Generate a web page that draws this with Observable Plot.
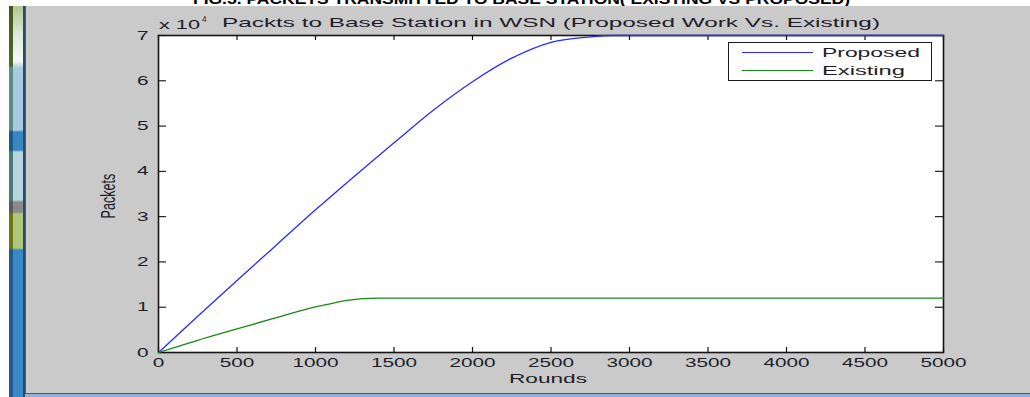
<!DOCTYPE html>
<html><head><meta charset="utf-8">
<script src="https://cdn.jsdelivr.net/npm/d3@7"></script>
<script src="https://cdn.jsdelivr.net/npm/@observablehq/plot@0.6"></script>
<style>
body{margin:0;background:#fff;}
#wrap{position:relative;width:1030px;height:397px;overflow:hidden;background:#fff;font-family:"Liberation Sans",Arial,sans-serif;color:#1e1e2a;}
#panel{position:absolute;left:25px;top:6px;width:1005px;height:387px;background:#cacaca;border-left:1px solid #5a5a60;box-sizing:border-box;}
#botline{position:absolute;left:25px;top:393px;width:1005px;height:1px;background:#4a5a70;}
#botblue{position:absolute;left:25px;top:394px;width:1005px;height:3px;background:#8fb2d6;}
#stripA{position:absolute;left:9px;top:6px;width:4px;height:391px;
 background:linear-gradient(to bottom,#44551a 0,#4a6a2a 60px,#5f8a8a 62px,#5f8a8a 124px,#1a5a8a 126px,#1a5a8a 144px,#4a7a7a 146px,#4a7a7a 194px,#5a5a5a 196px,#5a5a5a 206px,#6a7a10 208px,#6a7a10 242px,#1e5a90 244px,#1e5a90 100%);}
#stripB{position:absolute;left:13px;top:6px;width:10px;height:391px;
 background:linear-gradient(to bottom,#b0c890 0,#dfeadf 30px,#f4f8f4 55px,#a9cbe0 62px,#a9cbe0 124px,#3a86c0 126px,#3a86c0 144px,#b6d6e0 146px,#b6d6e0 194px,#8a8a8a 196px,#8a8a8a 206px,#b2c77e 208px,#b2c77e 242px,#3a88c6 244px,#3a88c6 100%);}
#stripC{position:absolute;left:23px;top:6px;width:2px;height:391px;background:#2a4a6a;}
#wrap svg{position:absolute;left:0;top:0;}
.t{position:absolute;white-space:nowrap;font-size:13px;line-height:13px;transform-origin:0 0;}
#caption{position:absolute;left:193px;top:-8px;font-weight:bold;font-size:14px;line-height:14px;color:#000;white-space:nowrap;transform-origin:0 0;}
#legend{position:absolute;left:728px;top:42px;width:204px;height:39px;border:1px solid #1a1a1a;background:#fff;box-sizing:border-box;}
.sw{position:absolute;left:13px;width:71px;height:0;border-top:1px solid;}
.lt{position:absolute;left:93px;white-space:nowrap;font-size:13px;line-height:13px;transform-origin:0 0;}
#ylab{position:absolute;left:109px;top:196px;font-size:12.6px;line-height:12.6px;white-space:nowrap;transform:translate(-50%,-50%) rotate(-90deg) scaleY(1.65);}
</style></head>
<body><div id="wrap">
<div id="caption">FIG.5. PACKETS TRANSMITTED TO BASE STATION( EXISTING VS PROPOSED)</div>
<div id="panel"></div>
<div id="stripA"></div><div id="stripB"></div><div id="stripC"></div>
<div id="botline"></div><div id="botblue"></div>
</div>
<script>
// ---- data ----
const seriesNames = ["Proposed", "Existing"];
const seriesColors = ["#2a2aff", "#168a16"];
const proposedRounds = [0, 250, 500, 750, 1000, 1250, 1500, 1750, 2000, 2250, 2500, 2750, 2900, 3000, 3500, 4000, 4500, 5000];
const proposedPackets = [0, 8000, 15900, 23700, 31500, 39000, 46300, 53500, 59800, 65000, 68500, 69700, 70000, 70000, 70000, 70000, 70000, 70000];
const existingRounds = [0, 250, 500, 750, 1000, 1100, 1200, 1300, 1400, 1500, 2000, 3000, 4000, 5000];
const existingPackets = [0, 2700, 5200, 7700, 10100, 10800, 11500, 11900, 12000, 12000, 12000, 12000, 12000, 12000];
const xTicks = [0, 500, 1000, 1500, 2000, 2500, 3000, 3500, 4000, 4500, 5000];
const yTicks = [0, 1, 2, 3, 4, 5, 6, 7];
const yExponent = 4;
const titleText = "Packts to Base Station in WSN (Proposed Work Vs. Existing)";
const xLabel = "Rounds";
const yLabel = "Packets";

// ---- table ----
const table = [
  ...proposedRounds.map((r, i) => ({series: seriesNames[0], round: r, packets: proposedPackets[i]})),
  ...existingRounds.map((r, i) => ({series: seriesNames[1], round: r, packets: existingPackets[i]}))
];
const scaleK = Math.pow(10, yExponent);
const yTickVals = yTicks.map(v => v * scaleK);

const W = 1030, H = 397, mL = 158, mR = 87, mT = 35, mB = 45;
const pw = W - mL - mR, ph = H - mT - mB;
const S = 1.65; // horizontal stretch of the original figure

const chart = Plot.plot({
  width: W, height: H,
  marginLeft: mL, marginRight: mR, marginTop: mT, marginBottom: mB,
  style: {background: "transparent", fontFamily: "'Liberation Sans', Arial, sans-serif", fontSize: "12.6px", color: "#1e1e2a", overflow: "visible"},
  x: {domain: [0, 5000]},
  y: {domain: [0, 7 * scaleK]},
  color: {domain: seriesNames, range: seriesColors},
  marks: [
    Plot.frame({fill: "white", stroke: "none"}),
    Plot.axisX(xTicks, {tickSize: 0, tickPadding: 6, label: null, tickFormat: d => String(d), fontSize: 12.6}),
    Plot.axisY(yTickVals, {tickSize: 0, tickPadding: 10, label: null, tickFormat: d => String(d / scaleK), fontSize: 12.6}),
    Plot.tickX(xTicks, {x: d => d, insetTop: ph - 5, stroke: "#111", strokeWidth: 1.2}),
    Plot.tickX(xTicks, {x: d => d, insetBottom: ph - 5, stroke: "#111", strokeWidth: 1.2}),
    Plot.tickY(yTickVals, {y: d => d, insetRight: pw - 8, stroke: "#111", strokeWidth: 1.1}),
    Plot.tickY(yTickVals, {y: d => d, insetLeft: pw - 8, stroke: "#111", strokeWidth: 1.1}),
    Plot.frame({stroke: "#141414", strokeWidth: 1.6}),
    Plot.line(table, {x: "round", y: "packets", z: "series", stroke: "series", strokeWidth: 1.3, curve: "monotone-x"})
  ]
});
const wrap = document.getElementById("wrap");
wrap.appendChild(chart);

// stretch SVG texts horizontally about their anchor
chart.querySelectorAll("text").forEach(t => {
  const tr = t.getAttribute("transform");
  if (tr) t.setAttribute("transform", tr + ` scale(${S},1)`);
  else {
    const x = +(t.getAttribute("x") || 0);
    t.setAttribute("transform", `translate(${x},0) scale(${S},1) translate(${-x},0)`);
  }
});

// ---- overlays ----
function addText(cls, txt, left, top, target, parent) {
  const d = document.createElement("div");
  d.className = cls; d.textContent = txt;
  d.style.left = left + "px"; d.style.top = top + "px";
  (parent || wrap).appendChild(d);
  const w = d.getBoundingClientRect().width;
  d.style.transform = `scaleX(${target / w})`;
  return d;
}
addText("t", "x 10", 159, 17.5, 41);
const sup = addText("t", String(yExponent), 202, 14.5, 6.5); sup.style.fontSize = "9px"; sup.style.lineHeight = "9px";
{ const w = sup.getBoundingClientRect().width; }
addText("t", titleText, 222, 15.5, 658);
addText("t", xLabel, 509, 372, 78);

const cap = document.getElementById("caption");
const cw = cap.getBoundingClientRect().width;
cap.style.transform = `scaleX(${657 / cw})`;

const yl = document.createElement("div");
yl.id = "ylab"; yl.textContent = yLabel; wrap.appendChild(yl);

const legend = document.createElement("div");
legend.id = "legend"; wrap.appendChild(legend);
const legendTargets = [98, 83];
seriesNames.forEach((name, i) => {
  const sw = document.createElement("div");
  sw.className = "sw"; sw.style.top = (9 + i * 17.5) + "px"; sw.style.borderColor = seriesColors[i];
  legend.appendChild(sw);
  addText("lt", name, 93, 3.3 + i * 17.5, legendTargets[i], legend);
});
</script>
</body></html>
